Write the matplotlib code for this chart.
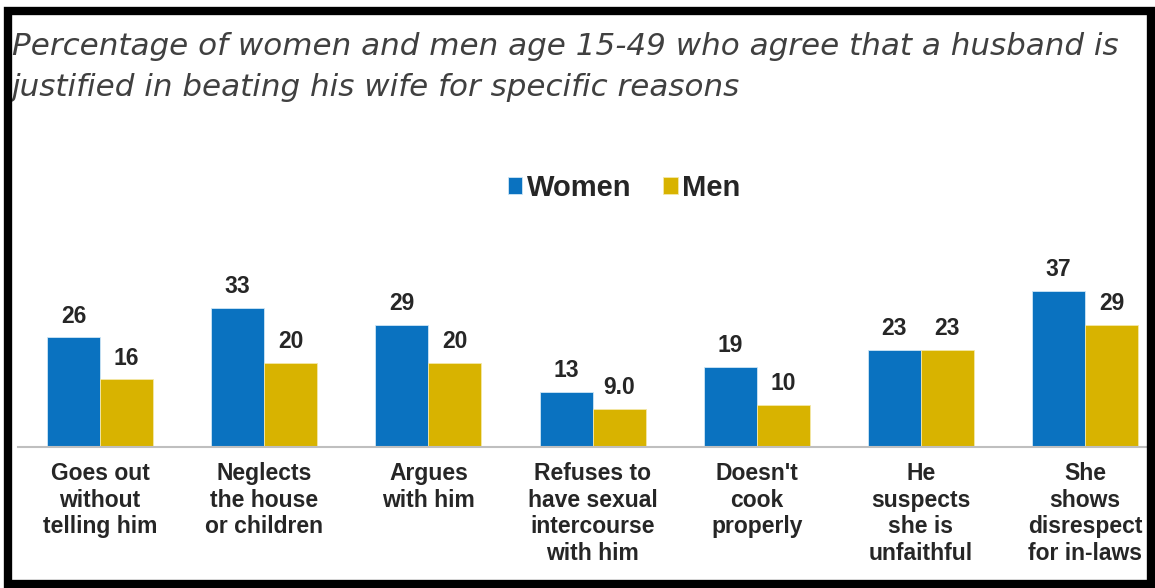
import numpy as np
import matplotlib
matplotlib.use('Agg')
import matplotlib.pyplot as plt
from matplotlib.patches import Rectangle

categories = ['Goes out\nwithout\ntelling him', 'Neglects\nthe house\nor children',
              'Argues\nwith him', 'Refuses to\nhave sexual\nintercourse\nwith him',
              "Doesn't\ncook\nproperly", 'He\nsuspects\nshe is\nunfaithful',
              'She\nshows\ndisrespect\nfor in-laws']
women = [26, 33, 29, 13, 19, 23, 37]
men = [16, 20, 20, 9.0, 10, 23, 29]
value_labels_women = ['26', '33', '29', '13', '19', '23', '37']
value_labels_men = ['16', '20', '20', '9.0', '10', '23', '29']

blue = '#0A72C0'
gold = '#D8B300'

W, H = 1155, 588
fig = plt.figure(figsize=(W / 100, H / 100), dpi=100)

# black frame round the whole picture
fig.patches.append(Rectangle((8 / W, 4 / H), (1151 - 8) / W, (577 - 4) / H,
                             transform=fig.transFigure, fill=False,
                             edgecolor='black', linewidth=6, zorder=10))

left_px, right_px = 18, 1150
base_px, top_px = 447, 250
ax = fig.add_axes([left_px / W, (H - base_px) / H,
                   (right_px - left_px) / W, (base_px - top_px) / H])

x = np.arange(len(categories))
bw = 0.323
b1 = ax.bar(x - bw / 2, women, bw, color=blue, edgecolor='#CFE6F5', linewidth=0.6, label='Women')
b2 = ax.bar(x + bw / 2, men, bw, color=gold, edgecolor='#F4E8A8', linewidth=0.6, label='Men')

for bars, labs in ((b1, value_labels_women), (b2, value_labels_men)):
    for r, t in zip(bars, labs):
        ax.annotate(t, (r.get_x() + r.get_width() / 2, r.get_height()),
                    xytext=(0, 7), textcoords='offset points', ha='center', va='bottom',
                    fontsize=16.5, fontweight='bold', color='#262626',
                    family='Liberation Sans')

ax.set_xlim(-0.5, 6.395)
ax.set_ylim(0, (base_px - top_px) / 4.22)
ax.set_xticks(x)
ax.set_xticklabels(categories, fontsize=16.5, fontweight='bold', color='#262626',
                   family='Liberation Sans', linespacing=1.2, va='top')
ax.tick_params(axis='x', length=0, pad=11)
ax.set_yticks([])
for s in ['top', 'right', 'left']:
    ax.spines[s].set_visible(False)
ax.spines['bottom'].set_color('#BFBFBF')
ax.spines['bottom'].set_linewidth(1.5)

fig.text(12 / W, 1 - 32 / H, 'Percentage of women and men age 15-49 who agree that a husband is\n'
         'justified in beating his wife for specific reasons',
         fontsize=22.3, fontstyle='italic', family='DejaVu Sans', color='#404040',
         linespacing=1.5, va='top', ha='left')

leg = fig.legend(handles=[b1, b2], loc='center', bbox_to_anchor=(624 / W, 1 - 188 / H),
                 ncol=2, frameon=False, handlelength=0.5, handleheight=0.5,
                 handletextpad=0.15, columnspacing=1.1,
                 prop={'family': 'Liberation Sans', 'weight': 'bold', 'size': 21})
for t in leg.get_texts():
    t.set_color('#262626')

fig.savefig('out.png', dpi=100)
